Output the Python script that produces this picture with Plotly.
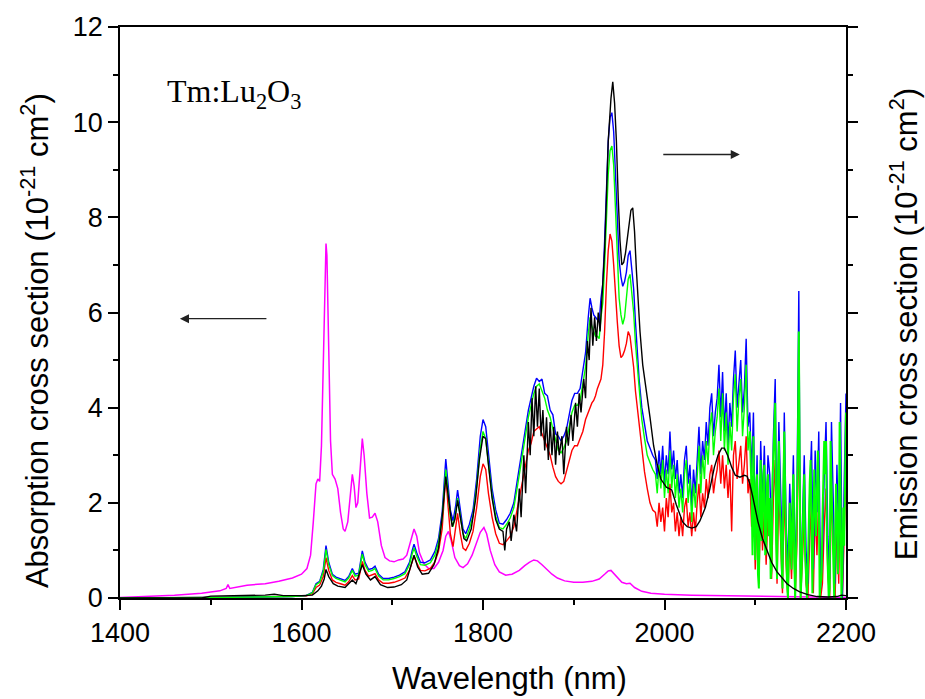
import plotly.graph_objects as go

# ---------------- data ----------------
# Absorption cross section (magenta), 10^-21 cm^2
ABS_WL = [1400, 1430, 1460, 1490, 1510, 1517, 1519, 1521, 1540, 1560,
          1575, 1590, 1600, 1606, 1610, 1613, 1616, 1618, 1620, 1622,
          1624, 1626, 1627, 1628, 1630, 1632, 1634, 1637, 1640, 1643,
          1646, 1648, 1651, 1654, 1656, 1658, 1660, 1662, 1665, 1667,
          1669, 1672, 1675, 1678, 1681, 1684, 1688, 1692, 1697, 1702,
          1707, 1712, 1716, 1720, 1724, 1727, 1730, 1735, 1740, 1746,
          1751, 1756, 1759, 1762, 1765, 1769, 1774, 1778, 1783, 1788,
          1793, 1797, 1801, 1804, 1808, 1813, 1818, 1825, 1832, 1840,
          1846, 1851, 1856, 1860, 1865, 1870, 1876, 1882, 1890, 1900,
          1910, 1920, 1928, 1934, 1938, 1941, 1944, 1948, 1953, 1958,
          1962, 1967, 1975, 1985, 2000, 2030, 2060, 2100, 2140, 2200]
ABS_VAL = [0.01, 0.03, 0.06, 0.10, 0.15, 0.20, 0.28, 0.20, 0.27, 0.30,
           0.35, 0.42, 0.50, 0.62, 0.90, 1.60, 2.40, 2.50, 2.45, 3.20,
           5.00, 7.00, 7.45, 7.20, 5.20, 3.30, 2.60, 2.50, 2.30, 1.80,
           1.45, 1.40, 1.60, 2.20, 2.60, 2.35, 1.90, 2.00, 2.80, 3.35,
           3.00, 2.20, 1.68, 1.70, 1.78, 1.60, 1.10, 0.85, 0.78, 0.76,
           0.80, 0.82, 0.90, 1.20, 1.45, 1.30, 0.95, 0.72, 0.62, 0.62,
           0.75, 1.00, 1.30, 1.40, 1.20, 0.85, 0.68, 0.64, 0.72, 0.90,
           1.15, 1.38, 1.48, 1.35, 1.00, 0.70, 0.55, 0.48, 0.50, 0.58,
           0.68, 0.75, 0.80, 0.78, 0.70, 0.60, 0.50, 0.42, 0.36, 0.33,
           0.33, 0.35, 0.40, 0.50, 0.57, 0.58, 0.52, 0.42, 0.33, 0.30,
           0.31, 0.22, 0.14, 0.10, 0.08, 0.06, 0.05, 0.03, 0.02, 0.01]

# Emission cross sections (blue, green, red share one wavelength grid)
EM_WL_MAIN = [1400, 1450, 1500, 1550, 1590, 1605, 1612, 1616, 1620, 1624,
              1627, 1630, 1634, 1638, 1643, 1648, 1652, 1656, 1659, 1663,
              1667, 1670, 1674, 1678, 1681, 1685, 1690, 1696, 1702, 1708,
              1714, 1719, 1722, 1724, 1727, 1731, 1736, 1742, 1747, 1751,
              1755, 1757, 1759, 1761, 1764, 1767, 1770, 1772, 1775, 1778,
              1781, 1785, 1789, 1793, 1797, 1800, 1803, 1806, 1810, 1814,
              1818, 1822, 1826, 1830, 1834, 1838, 1842, 1846, 1850, 1853,
              1856, 1859, 1862, 1865, 1868, 1871, 1874, 1877, 1880, 1883,
              1886, 1889, 1892, 1895, 1898, 1901, 1904, 1907, 1910, 1913,
              1916, 1918, 1920, 1922, 1924, 1926, 1928, 1930, 1932, 1934,
              1936, 1938, 1940, 1942, 1944, 1946, 1948, 1950, 1952, 1954,
              1956, 1958, 1960, 1962, 1964, 1966, 1968, 1970, 1972, 1975,
              1978, 1981, 1984, 1987]
EM_WL_NOISY = list(range(1990, 2201, 2))
GREEN_WL_FINE = list(range(2096, 2201, 1))

BLUE_MAIN = [0.00, 0.00, 0.01, 0.02, 0.03, 0.05, 0.12, 0.30, 0.35, 0.60,
             1.10, 0.75, 0.50, 0.44, 0.40, 0.37, 0.45, 0.62, 0.50, 0.52,
             0.99, 0.75, 0.60, 0.62, 0.67, 0.50, 0.41, 0.41, 0.44, 0.48,
             0.55, 0.75, 1.00, 1.13, 0.95, 0.75, 0.74, 0.80, 0.98, 1.25,
             1.80, 2.45, 2.92, 2.50, 1.85, 1.62, 1.95, 2.27, 1.90, 1.45,
             1.35, 1.55, 1.85, 2.50, 3.40, 3.75, 3.60, 3.00, 2.30, 1.85,
             1.57, 1.55, 1.65, 1.78, 2.00, 2.50, 3.00, 3.50, 3.95, 4.20,
             4.45, 4.62, 4.55, 4.60, 4.30, 4.25, 3.95, 3.85, 3.45, 3.40,
             3.30, 3.40, 3.55, 3.85, 4.15, 4.30, 4.30, 4.40, 4.80, 5.15,
             5.90, 6.30, 6.10, 5.95, 5.90, 5.85, 5.80, 6.30, 6.60, 7.50,
             8.70, 9.60, 10.10, 10.20, 9.80, 8.90, 8.00, 7.10, 6.75, 6.55,
             6.65, 6.85, 7.20, 7.30, 6.90, 6.50, 5.80, 5.20, 4.60, 4.00,
             3.60, 3.30, 3.15, 3.00]
BLUE_NOISY = [2.9, 2.5, 3.1, 2.6, 3.2, 2.4, 3.0, 2.6, 3.5, 2.7,
              3.1, 2.5, 2.9, 2.2, 2.6, 2.1, 2.9, 3.2, 2.4, 2.8,
              1.9, 2.7, 2.2, 3.0, 3.6, 2.6, 3.3, 2.9, 3.7, 3.2,
              4.0, 4.3, 3.4, 3.9, 4.2, 4.9, 3.8, 4.75, 3.5, 4.3,
              3.2, 4.1, 3.6, 4.6, 5.2, 4.0, 4.6, 5.0, 3.9, 4.4,
              5.45, 3.6, 3.9, 2.6, 3.9, 1.4, 3.0, 0.6, 3.3, 2.0,
              3.2, 1.5, 3.0, 2.6, 1.2, 3.4, 4.6, 1.0, 3.7, 2.1,
              0.8, 3.9, 1.6, 0.6, 2.4, 1.2, 3.0, 0.4, 2.2, 6.45,
              0.2, 1.6, 3.0, 1.0, 0.3, 2.2, 3.3, 0.6, 3.1, 1.8,
              3.5, 0.2, 0.9, 2.6, 3.7, 1.3, 0.4, 3.7, 2.0, 0.3,
              2.8, 1.1, 4.1, 0.0, 2.4, 4.3]

GREEN_MAIN = [0.00, 0.00, 0.01, 0.02, 0.03, 0.05, 0.11, 0.28, 0.33, 0.55,
              1.02, 0.70, 0.47, 0.41, 0.37, 0.34, 0.42, 0.58, 0.46, 0.48,
              0.92, 0.70, 0.56, 0.58, 0.62, 0.46, 0.38, 0.38, 0.41, 0.45,
              0.51, 0.70, 0.93, 1.05, 0.88, 0.70, 0.69, 0.74, 0.90, 1.16,
              1.68, 2.30, 2.70, 2.30, 1.72, 1.50, 1.80, 2.10, 1.75, 1.35,
              1.25, 1.45, 1.72, 2.35, 3.15, 3.50, 3.35, 2.80, 2.15, 1.72,
              1.48, 1.45, 1.55, 1.68, 1.90, 2.35, 2.85, 3.35, 3.80, 4.05,
              4.30, 4.45, 4.50, 4.35, 4.20, 3.95, 3.80, 3.55, 3.30, 3.10,
              3.05, 3.15, 3.30, 3.60, 3.90, 4.05, 4.05, 4.15, 4.50, 4.85,
              5.55, 5.90, 5.70, 5.60, 5.50, 5.50, 5.45, 5.90, 6.20, 7.00,
              8.10, 8.90, 9.40, 9.50, 9.10, 8.20, 7.40, 6.30, 5.95, 5.75,
              5.90, 6.30, 6.70, 6.80, 6.40, 6.00, 5.35, 4.85, 4.30, 3.75,
              3.35, 3.00, 2.85, 2.70]
# green 1990..2094 (2 nm steps)
GREEN_NOISY = [2.6, 2.2, 2.8, 2.3, 2.9, 2.1, 2.7, 2.2, 3.1, 2.3,
               2.8, 2.1, 2.6, 1.9, 2.3, 1.8, 2.6, 2.9, 2.0, 2.5,
               1.6, 2.4, 1.9, 2.7, 3.2, 2.2, 3.0, 2.5, 3.3, 2.8,
               3.6, 3.9, 3.0, 3.5, 3.8, 4.4, 3.3, 4.3, 3.1, 3.9,
               2.8, 3.7, 3.1, 4.2, 4.7, 3.5, 4.2, 4.6, 3.4, 4.0,
               4.9, 3.1, 3.5]
# green 2096..2200 (1 nm steps)
GREEN_FINE = [2.2, 0.9, 3.4, 1.6, 0.8, 2.4, 2.6, 0.5, 0.2, 2.2,
              2.9, 1.2, 1.5, 2.6, 2.8, 0.9, 1.0, 2.4, 2.6, 1.3,
              2.1, 0.4, 0.6, 2.5, 3.0, 3.6, 4.1, 1.2, 0.4, 2.6,
              3.3, 2.0, 1.6, 0.8, 0.2, 2.3, 3.5, 2.2, 1.1, 0.3,
              0.0, 1.4, 2.0, 1.2, 0.6, 1.9, 2.6, 0.8, 0.0, 0.9,
              1.8, 3.2, 5.6, 2.0, 0.0, 0.5, 1.2, 1.9, 2.6, 0.9,
              0.4, 0.0, 0.6, 1.8, 2.4, 2.9, 1.5, 0.1, 1.6, 2.7,
              1.9, 1.3, 2.2, 3.1, 2.4, 0.0, 0.3, 0.4, 1.6, 2.2,
              3.3, 2.6, 3.3, 1.2, 0.7, 0.0, 0.2, 3.3, 2.4, 1.5,
              0.6, 0.0, 1.2, 2.4, 1.8, 0.5, 0.9, 3.7, 2.2, 0.0,
              0.6, 1.9, 1.1, 2.8, 3.9]

RED_MAIN = [0.00, 0.00, 0.01, 0.02, 0.03, 0.04, 0.09, 0.22, 0.27, 0.45,
            0.85, 0.58, 0.38, 0.33, 0.30, 0.27, 0.34, 0.47, 0.38, 0.40,
            0.77, 0.58, 0.46, 0.48, 0.51, 0.38, 0.31, 0.31, 0.33, 0.37,
            0.42, 0.58, 0.78, 0.88, 0.74, 0.58, 0.57, 0.62, 0.76, 0.98,
            1.45, 2.10, 2.60, 2.05, 1.35, 1.08, 1.50, 1.78, 1.35, 1.05,
            1.00, 1.15, 1.40, 1.90, 2.55, 2.82, 2.70, 2.20, 1.70, 1.35,
            1.15, 1.12, 1.20, 1.30, 1.50, 1.90, 2.30, 2.70, 3.10, 3.25,
            3.50, 3.55, 3.60, 3.45, 3.30, 3.15, 3.00, 2.75, 2.55, 2.45,
            2.40, 2.45, 2.65, 2.85, 3.10, 3.20, 3.20, 3.35, 3.50, 3.75,
            3.90, 4.00, 4.10, 4.15, 4.25, 4.40, 4.50, 4.60, 4.90, 5.60,
            6.60, 7.30, 7.65, 7.50, 7.00, 6.30, 5.80, 5.30, 5.05, 5.10,
            5.20, 5.35, 5.60, 5.50, 5.20, 4.85, 4.35, 4.00, 3.60, 3.05,
            2.65, 2.30, 2.00, 1.85]
RED_NOISY = [1.8, 1.5, 2.0, 1.6, 1.9, 1.4, 2.1, 1.7, 2.4, 1.8,
             2.0, 1.4, 1.8, 1.3, 1.7, 1.3, 1.9, 2.1, 1.5, 1.8,
             1.3, 1.8, 1.4, 2.0, 2.4, 1.7, 2.2, 1.9, 2.5, 2.1,
             2.6, 2.8, 2.2, 2.5, 2.7, 3.1, 2.4, 3.0, 2.3, 2.8,
             2.1, 2.7, 1.4, 3.0, 3.3, 2.5, 2.9, 3.2, 2.4, 2.8,
             3.4, 2.2, 2.5, 1.5, 2.4, 0.6, 1.8, 0.3, 2.0, 1.0,
             1.9, 0.7, 1.8, 1.4, 0.4, 2.1, 2.9, 0.3, 2.3, 1.1,
             0.1, 2.4, 0.7, 0.0, 1.3, 0.4, 1.8, 0.0, 1.2, 3.9,
             0.0, 0.8, 1.8, 0.3, 0.0, 1.2, 2.0, 0.1, 1.9, 0.9,
             2.2, 0.0, 0.3, 1.5, 2.3, 0.5, 0.0, 2.3, 1.0, 0.0,
             1.7, 0.3, 2.6, 0.0, 1.3, 2.7]

# Black emission curve (own grid)
BLACK_WL = [1400, 1490, 1500, 1530, 1560, 1570, 1580, 1600, 1612, 1618,
            1622, 1625, 1627, 1630, 1635, 1640, 1648, 1656, 1660, 1667,
            1671, 1676, 1681, 1687, 1695, 1702, 1710, 1716, 1721, 1724,
            1728, 1733, 1740, 1746, 1751, 1755, 1759, 1762, 1766, 1769,
            1772, 1775, 1779, 1782, 1787, 1792, 1796, 1800, 1803, 1806,
            1810, 1814, 1818, 1822, 1824, 1826, 1829, 1831, 1834, 1837,
            1840, 1842, 1845, 1847, 1850, 1852, 1854, 1856, 1858, 1860,
            1862, 1864, 1866, 1868, 1870, 1872, 1874, 1876, 1878, 1880,
            1882, 1884, 1887, 1889, 1892, 1894, 1897, 1899, 1902, 1904,
            1906, 1908, 1911, 1913, 1915, 1917, 1919, 1921, 1923, 1925,
            1927, 1929, 1931, 1934, 1936, 1938, 1941, 1943, 1945, 1947,
            1949, 1951, 1953, 1955, 1957, 1960, 1963, 1965, 1967, 1969,
            1971, 1973, 1976, 1980, 1984, 1988, 1992, 1996, 2002, 2008,
            2013, 2020, 2025, 2030, 2035, 2039, 2045, 2050, 2055, 2059,
            2063, 2066, 2070, 2074, 2078, 2083, 2088, 2091, 2094, 2097,
            2100, 2103, 2108, 2113, 2118, 2124, 2130, 2135, 2142, 2149,
            2158, 2168, 2180, 2190, 2195, 2200]
BLACK_VAL = [0.00, 0.00, 0.04, 0.05, 0.06, 0.08, 0.05, 0.05, 0.06, 0.15,
             0.25, 0.40, 0.60, 0.45, 0.30, 0.25, 0.22, 0.38, 0.30, 0.70,
             0.50, 0.38, 0.45, 0.28, 0.22, 0.23, 0.28, 0.38, 0.70, 0.90,
             0.65, 0.50, 0.52, 0.70, 1.05, 1.70, 2.55, 2.10, 1.50, 1.65,
             2.05, 1.70, 1.25, 1.20, 1.45, 2.10, 2.90, 3.40, 3.35, 2.80,
             2.10, 1.65, 1.45, 1.40, 1.00, 1.45, 1.60, 1.20, 1.75, 1.40,
             2.30, 1.70, 3.00, 2.20, 3.70, 3.00, 4.20, 3.40, 4.45, 3.60,
             4.40, 3.40, 3.95, 3.10, 3.80, 2.90, 3.70, 3.00, 3.60, 2.80,
             3.50, 3.00, 3.40, 2.60, 3.60, 3.20, 3.85, 3.30, 4.10, 3.60,
             4.30, 3.90, 4.60, 4.20, 5.40, 5.00, 6.10, 5.30, 5.90, 5.40,
             6.00, 5.60, 6.20, 7.30, 8.40, 9.60, 10.50, 10.85, 10.40, 9.60,
             8.40, 7.50, 7.00, 7.05, 7.25, 7.70, 8.15, 8.20, 7.70, 6.90,
             6.20, 5.60, 4.90, 4.40, 3.80, 3.20, 2.80, 2.50, 2.33, 2.27,
             1.96, 1.60, 1.50, 1.47, 1.50, 1.62, 1.90, 2.30, 2.75, 3.00,
             3.15, 3.15, 2.98, 2.75, 2.58, 2.54, 2.58, 2.56, 2.40, 2.15,
             1.85, 1.60, 1.25, 0.98, 0.75, 0.55, 0.40, 0.30, 0.20, 0.13,
             0.07, 0.03, 0.02, 0.03, 0.06, 0.05]

X_TICKS = [1400, 1600, 1800, 2000, 2200]
Y_TICKS = [0, 2, 4, 6, 8, 10, 12]

X_TITLE = "Wavelength (nm)"
Y_TITLE = "Absorption cross section (10<sup>-21</sup> cm<sup>2</sup>)"
Y2_TITLE = "Emission cross section (10<sup>-21</sup> cm<sup>2</sup>)"
SAMPLE = "Tm:Lu<sub>2</sub>O<sub>3</sub>"

# annotation anchors in data units
LABEL_POS = (1450, 10.6)
ABS_ARROW = (1563, 1466, 5.87)   # tail x, head x, y
EM_ARROW = (1997, 2083, 9.32)

# ---------------- figure ----------------
em_x = EM_WL_MAIN + EM_WL_NOISY
n_coarse = len(GREEN_NOISY)
green_x = EM_WL_MAIN + EM_WL_NOISY[:n_coarse]
green_y = GREEN_MAIN + GREEN_NOISY
green_fine_x = EM_WL_NOISY[n_coarse - 1:n_coarse] + GREEN_WL_FINE
green_fine_y = GREEN_NOISY[-1:] + GREEN_FINE

fig = go.Figure()
fig.add_trace(go.Scatter(x=ABS_WL, y=ABS_VAL, mode="lines",
                         line=dict(color="#ff00ff", width=1.5), yaxis="y"))
fig.add_trace(go.Scatter(x=em_x, y=RED_MAIN + RED_NOISY, mode="lines",
                         line=dict(color="#ff0000", width=1.4), yaxis="y2"))
fig.add_trace(go.Scatter(x=em_x, y=BLUE_MAIN + BLUE_NOISY, mode="lines",
                         line=dict(color="#0000ff", width=1.4), yaxis="y2"))
fig.add_trace(go.Scatter(x=green_x, y=green_y, mode="lines",
                         line=dict(color="#00ff00", width=1.4), yaxis="y2"))
fig.add_trace(go.Scatter(x=green_fine_x, y=green_fine_y, mode="lines",
                         line=dict(color="#00ff00", width=2.0), yaxis="y2"))
fig.add_trace(go.Scatter(x=BLACK_WL, y=BLACK_VAL, mode="lines",
                         line=dict(color="#000000", width=1.4), yaxis="y2"))

font_sans = "Liberation Sans, Arial, sans-serif"
axis_common = dict(showline=True, linecolor="black", linewidth=1.5,
                   ticks="outside", ticklen=10, tickwidth=1.5, tickcolor="black",
                   showgrid=False, zeroline=False)
minor_common = dict(ticklen=5, tickwidth=1.5, ticks="outside", tickcolor="black")

fig.update_layout(
    width=925, height=699,
    margin=dict(l=120, r=79, t=18, b=101),
    paper_bgcolor="white", plot_bgcolor="white",
    showlegend=False,
    font=dict(family=font_sans, color="black"),
    xaxis=dict(range=[1400, 2200], tickvals=X_TICKS, mirror=True,
               minor=dict(dtick=100, **minor_common),
               tickfont=dict(size=27), **axis_common),
    yaxis=dict(range=[0, 12], tickvals=Y_TICKS,
               minor=dict(dtick=1, **minor_common),
               tickfont=dict(size=27), **axis_common),
    yaxis2=dict(range=[0, 12], tickvals=Y_TICKS, overlaying="y", side="right",
                showticklabels=False,
                minor=dict(dtick=1, **minor_common), **axis_common),
)

title_font = dict(family=font_sans, size=31, color="black")
fig.add_annotation(x=0.536, y=-0.141, xref="paper", yref="paper", text=X_TITLE,
                   showarrow=False, xanchor="center", yanchor="middle", font=title_font)
fig.add_annotation(x=-0.117, y=0.45, xref="paper", yref="paper", text=Y_TITLE,
                   textangle=-90, showarrow=False, xanchor="center", yanchor="middle",
                   font=title_font)
fig.add_annotation(x=1.081, y=0.479, xref="paper", yref="paper", text=Y2_TITLE,
                   textangle=-90, showarrow=False, xanchor="center", yanchor="middle",
                   font=title_font)

fig.add_annotation(x=LABEL_POS[0], y=LABEL_POS[1], xref="x", yref="y",
                   text=SAMPLE, showarrow=False,
                   xanchor="left", yanchor="middle",
                   font=dict(family="Liberation Serif, Times New Roman, serif", size=32, color="black"))
fig.add_annotation(x=ABS_ARROW[1], y=ABS_ARROW[2], ax=ABS_ARROW[0], ay=ABS_ARROW[2],
                   xref="x", yref="y", axref="x", ayref="y", text="", showarrow=True,
                   arrowhead=2, arrowsize=1.4, arrowwidth=1.3, arrowcolor="#222222")
fig.add_annotation(x=EM_ARROW[1], y=EM_ARROW[2], ax=EM_ARROW[0], ay=EM_ARROW[2],
                   xref="x", yref="y", axref="x", ayref="y", text="", showarrow=True,
                   arrowhead=2, arrowsize=1.4, arrowwidth=1.3, arrowcolor="#222222")

fig.write_html("out.html")
